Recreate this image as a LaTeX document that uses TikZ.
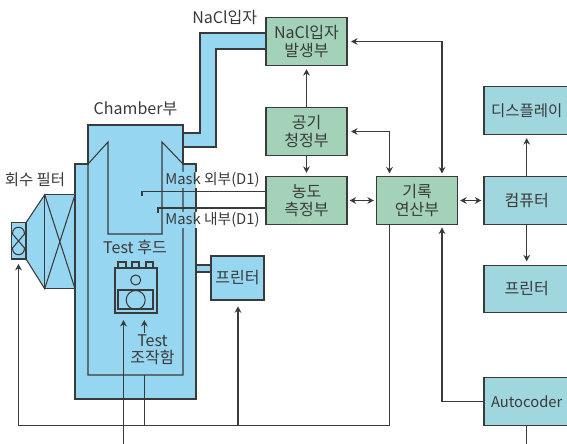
\documentclass[tikz,border=0pt]{standalone}
\usepackage{fontspec}
\setmainfont{Noto Sans CJK KR}
\usetikzlibrary{arrows.meta}
\definecolor{chamberblue}{HTML}{97D6F0}
\definecolor{boxgreen}{HTML}{A3D2B8}
\definecolor{boxteal}{HTML}{A0D6DD}
\definecolor{linegray}{HTML}{3A3A3A}
\tikzset{
	label text/.style={text=linegray,font=\fontsize{11.4}{12.4}\selectfont,align=center,inner sep=0pt},
	narrow text/.style={font=\fontsize{10.5}{12.4}\selectfont},
	green box/.style={label text,draw=linegray,fill=boxgreen,minimum width=2.025cm,minimum height=1.18cm},
	teal box/.style={label text,draw=linegray,fill=boxteal,minimum width=2.135cm,minimum height=1.18cm},
}

\begin{document}
\begin{tikzpicture}[x=0.025cm,y=-0.025cm,line width=0.75pt,draw=linegray]
		\useasboundingbox (0,0) rectangle (567,444);
		\clip (0,0) rectangle (567,444);

		% chamber and its pipe
		\filldraw[fill=chamberblue] (183,133) -- (200,133) -- (200,33) -- (266,33) -- (266,49) -- (216,49) -- (216,147) -- (183,147) -- cycle;
		\filldraw[fill=chamberblue] (88,125) -- (183,125) -- (183,164) -- (196,164) -- (196,399) -- (75,399) -- (75,164) -- (88,164) -- cycle;
		\draw (88,164) -- (88,375) -- (183,375) -- (183,164) -- (162,142) -- (162,234) -- (108,234) -- (108,142) -- (88,164);

		% filter
		\filldraw[fill=chamberblue] (44.7,194.7) -- (26,222.7) -- (26,259) -- (44.7,288.7) -- cycle;
		\filldraw[fill=chamberblue] (44.7,194.7) rectangle (75,288.7);
		\draw (44.7,194.7) -- (75,288.7) (75,194.7) -- (44.7,288.7);
		\filldraw[fill=chamberblue] (11.3,222.7) rectangle (26,259);
		\draw (12.5,234) .. controls (12.5,225) and (24.5,225) .. (24.5,234) -- (12.5,248) .. controls (12.5,257) and (24.5,257) .. (24.5,248) -- cycle;

		% test hood
		\draw (118,262) rectangle (126,268) (132,262) rectangle (139,268) (146,262) rectangle (153,268);
		\draw (115,268) rectangle (157,313) (118,290) rectangle (153,309);
		\draw (135.7,280) circle (5) (135.7,300) circle (9.5);

		% printer on the chamber
		\filldraw[fill=chamberblue] (196,265) rectangle (211,272);

		% gaps behind the mask labels
		\fill[chamberblue] (165,172) rectangle (195.6,188) (165,212) rectangle (195.6,228);
		\fill[white] (195.6,172) rectangle (198,188) (195.6,212) rectangle (198,228);

		\begin{scope}[every node/.style={label text}]
			\node (naclLabel) at (224.7,18) {NaCl입자};
			\node (chamberLabel) at (135.5,109) {Chamber부};
			\node[font=\fontsize{11}{12.4}\selectfont] (filterLabel) at (35,180) {회수 필터};
			\node[narrow text] (outerLabel) at (212.5,180) {Mask 외부(D1)};
			\node[narrow text] (innerLabel) at (212.5,220) {Mask 내부(D1)};
			\node (hoodLabel) at (135,247) {Test 후드};
			\node (panelLabel) at (152.5,349.5) {Test\\조작함};
		\end{scope}

		\begin{scope}
			\node[green box] (nacl) at (306.5,41.5) {NaCl입자\\발생부};
			\node[green box] (air) at (306.5,131.5) {공기\\청정부};
			\node[green box] (density) at (306.5,200.5) {농도\\측정부};
			\node[green box] (record) at (417,200.5) {기록\\연산부};
			\node[teal box,font=\fontsize{11}{12.4}\selectfont] (display) at (526.7,110.5) {디스플레이};
			\node[teal box] (computer) at (526.7,200.5) {컴퓨터};
			\node[teal box] (printerR) at (526.7,289) {프린터};
			\node[teal box,narrow text] (autocoder) at (526.7,401.5) {Autocoder};
			\node[label text,draw=linegray,fill=chamberblue,minimum width=1.325cm,minimum height=1.1cm] (printerL) at (237.5,278) {프린터};
		\end{scope}

		\coordinate (recordA) at (389.5,177);
		\coordinate (recordB) at (442,177);
		\coordinate (recordC) at (442,224);
		\coordinate (recordD) at (389.5,224);
		\coordinate (bus) at (144.3,425.7);
		\coordinate (busLeft) at (18.5,425.7);
		\coordinate (busRight) at (389.5,425.7);
		\coordinate (busPrinter) at (238,425.7);
		\coordinate (filterIn) at (18.5,259);
		\coordinate (printerIn) at (238,300);
		\coordinate (hoodA) at (123.5,313);
		\coordinate (hoodB) at (144.3,313);
		\coordinate (feed) at (123.5,444);
		\coordinate (panelTop) at (144.3,333);
		\coordinate (panelBottom) at (144.3,375);
		\coordinate (codeOut) at (526.7,444);
		\coordinate (outerEnd) at (142,196);
		\coordinate (outerBend) at (142,191.7);
		\coordinate (innerEnd) at (158,213);
		\coordinate (innerBend) at (158,208);
		\coordinate (outerIn) at (266,191.7);
		\coordinate (innerIn) at (266,208);

		\begin{scope}[>={Stealth[length=4.6pt,width=4.8pt]},shorten >=2.5pt]
			\draw[<->,shorten <=2.5pt] (nacl.east) -| (recordB);
			\draw[<->,shorten <=2.5pt] (air.east) -| (recordA);
			\draw[<->,shorten <=1.5pt,shorten >=1.5pt] (density) -- (record);
			\draw[<->,shorten <=1.5pt,shorten >=1.5pt] (record) -- (computer);
			\draw[->] (air) -- (nacl);
			\draw[->] (air) -- (density);
			\draw[->] (computer) -- (display);
			\draw[->] (computer) -- (printerR);
			\draw[->] (autocoder.west) -| (recordC);
			\draw[->,shorten >=4.5pt] (busPrinter) -- (printerIn);
			\draw[->,shorten >=3.5pt] (busLeft) -- (filterIn);
			\draw[->,shorten >=5pt] (feed) -- (hoodA);
			\draw[->,shorten >=5pt] (panelTop) -- (hoodB);
		\end{scope}

		\draw (filterIn |- busLeft) -- (busRight) -- (recordD);
		\draw (bus) -- (panelBottom);
		\draw (autocoder) -- (codeOut);
		\draw (outerIn) -- (outerBend) -- (outerEnd);
		\draw (innerIn) -- (innerBend) -- (innerEnd);
\end{tikzpicture}
\end{document}
